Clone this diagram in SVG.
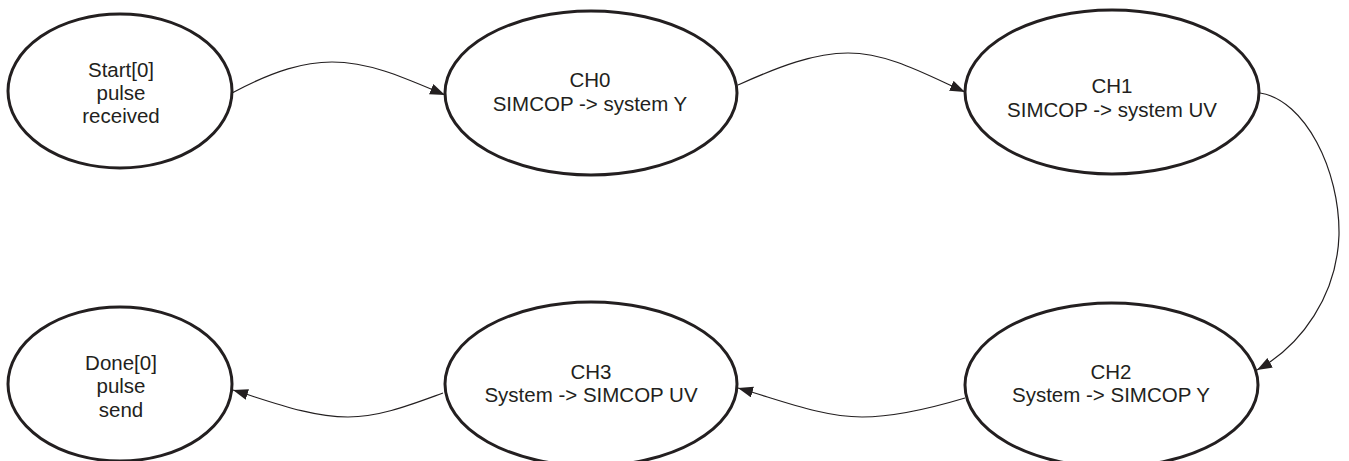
<svg xmlns="http://www.w3.org/2000/svg" width="1349" height="461" viewBox="0 0 1349 461">
<style>
.node ellipse{fill:#fff;stroke:#231f20;stroke-width:3}
.node text{font-family:"Liberation Sans",Arial,sans-serif;font-size:20.5px;fill:#231f20;text-anchor:middle}
.edge{fill:none;stroke:#231f20;stroke-width:1.2;marker-end:url(#arr)}
</style>
<defs>
<marker id="arr" markerUnits="userSpaceOnUse" markerWidth="16" markerHeight="12" refX="15" refY="5.5" orient="auto">
<path d="M0,0 L15,5.5 L0,11 z" fill="#231f20"/>
</marker>
</defs>
<rect width="1349" height="461" fill="#fff"/>
<g id="connectors">
<path class="edge" d="M232,93 C275,70 305,62 332,62 C370,62 405,78 445,95"/>
<path class="edge" d="M738,85 C780,66 815,53 848,53 C888,53 925,74 965,92"/>
<path class="edge" d="M1260,93 C1305,100 1340,170 1339,235 C1337,295 1302,345 1257,370"/>
<path class="edge" d="M965,398 C925,410 893,417 862,417 C822,417 780,400 738,388"/>
<path class="edge" d="M443,393 C410,405 380,417 348,417 C310,417 272,402 233,390"/>
</g>
<g id="start" class="node">
<ellipse cx="120" cy="91" rx="112" ry="77"/>
<text x="121" y="77">Start[0]</text>
<text x="121" y="100">pulse</text>
<text x="121" y="123">received</text>
</g>
<g id="ch0" class="node">
<ellipse cx="591" cy="93" rx="146" ry="82"/>
<text x="590" y="87">CH0</text>
<text x="590" y="111">SIMCOP -&gt; system Y</text>
</g>
<g id="ch1" class="node">
<ellipse cx="1112" cy="92" rx="147" ry="82"/>
<text x="1112" y="93">CH1</text>
<text x="1112" y="117">SIMCOP -&gt; system UV</text>
</g>
<g id="ch2" class="node">
<ellipse cx="1111.5" cy="385" rx="146.5" ry="82"/>
<text x="1111" y="379">CH2</text>
<text x="1111" y="402">System -&gt; SIMCOP Y</text>
</g>
<g id="ch3" class="node">
<ellipse cx="591" cy="384" rx="146" ry="82"/>
<text x="591" y="379">CH3</text>
<text x="591" y="402">System -&gt; SIMCOP UV</text>
</g>
<g id="done" class="node">
<ellipse cx="120" cy="384" rx="112" ry="77"/>
<text x="121" y="370">Done[0]</text>
<text x="121" y="393">pulse</text>
<text x="121" y="417">send</text>
</g>
</svg>
